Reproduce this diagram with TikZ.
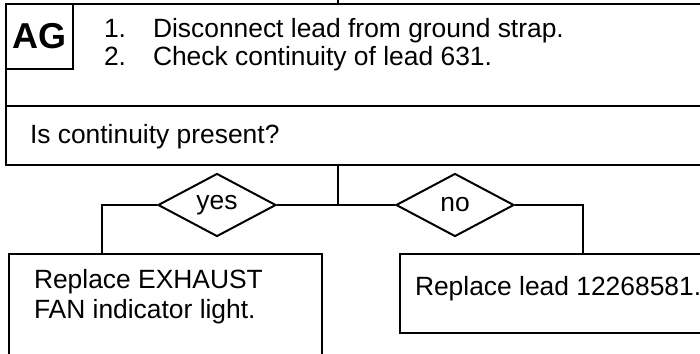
\documentclass[tikz,border=0pt]{standalone}
\usepackage{fontspec}
\setmainfont{Liberation Sans}
\usetikzlibrary{shapes.geometric,positioning}

\begin{document}
\begin{tikzpicture}[x=0.5pt,y=-0.5pt,line width=1pt,
  box/.style={draw,rectangle,anchor=north west,inner sep=0pt},
  gate/.style={draw,diamond,minimum width=59pt,minimum height=31.5pt,inner sep=0pt,font=\fontsize{13.2}{15}\selectfont},
  txt/.style={anchor=base west,inner sep=0pt,font=\fontsize{13.2}{15}\selectfont}]
  \useasboundingbox (0,0) rectangle (700,353);
  \clip (0,0) rectangle (700,353);
  % Step and question boxes
  \node[box,minimum width=362.5pt,minimum height=51pt] (steps) at (5,3) {};
  \node[box,minimum width=362.5pt,minimum height=29.5pt] (question) at (5,105) {};
  \node[box,minimum width=33.5pt,minimum height=32.5pt,font=\bfseries\fontsize{18}{18}\selectfont] (tag) at (5,3) {AG};
  \node[txt] (num1) at (103,38) {1.};
  \node[txt] (step1) at (152,38) {Disconnect lead from ground strap.};
  \node[txt] (num2) at (103,66) {2.};
  \node[txt] (step2) at (152,66) {Check continuity of lead 631.};
  \node[txt] (ask) at (29,143) {Is continuity present?};
  % Branches
  \coordinate (entry) at (338,0);
  \coordinate (split) at (338,205);
  \node[gate] (yes) at (217,205) {yes};
  \node[gate] (no) at (455,205) {no};
  % Result boxes
  \node[box,minimum width=156.5pt,minimum height=52pt] (fanbox) at (8,253) {};
  \node[txt] (fan1) at (33,288) {Replace EXHAUST};
  \node[txt] (fan2) at (33,318) {FAN indicator light.};
  \node[box,minimum width=165.5pt,minimum height=39.5pt] (leadbox) at (399,253) {};
  \node[txt] (lead1) at (414,295) {Replace lead 12268581.};
  % Connectors
  \draw (entry) -- (entry |- steps.north);
  \draw (split |- question.south) -- (split);
  \draw (yes.east) -- (split) -- (no.west);
  \draw (yes.west) -| ([xshift=47pt]fanbox.north west);
  \draw (no.east) -| ([xshift=92pt]leadbox.north west);
\end{tikzpicture}
\end{document}
